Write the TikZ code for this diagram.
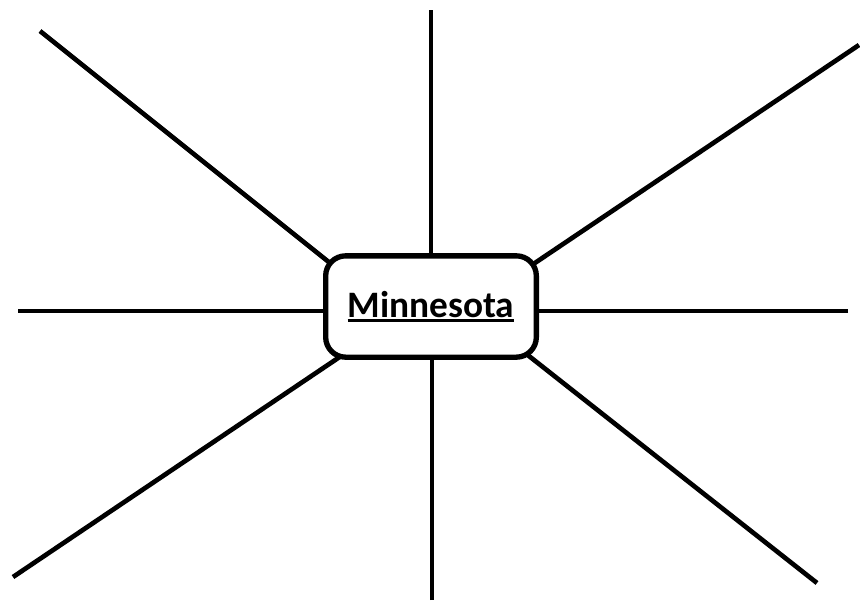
\documentclass[tikz,border=0pt]{standalone}
\usepackage{fontspec}
\setmainfont{Carlito}
\newcommand{\thickul}[1]{\vtop{\hbox{#1}\kern1.6pt\hrule height 2pt}}
\tikzset{
  spoke/.style={line width=3.5pt},
  statebox/.style={draw, line width=4pt, rounded corners=15pt, fill=white,
    minimum width=158pt, minimum height=76pt, inner sep=0pt,
    font=\fontsize{28}{30}\selectfont\bfseries}
}
\begin{document}
\begin{tikzpicture}[x=0.75pt, y=-0.75pt]
    \useasboundingbox (0,0) rectangle (860,601);

    % outer ends of the spokes
    \coordinate (N) at (431,10);
    \coordinate (S) at (432,600);
    \coordinate (W) at (18,311);
    \coordinate (E) at (848,311);
    \coordinate (NW) at (40,31);
    \coordinate (NE) at (859,45);
    \coordinate (SW) at (13,577);
    \coordinate (SE) at (817,583);

    % inner ends, under the box
    \coordinate (N') at (431,270);
    \coordinate (S') at (432,340);
    \coordinate (W') at (340,311);
    \coordinate (E') at (520,311);
    \coordinate (NW') at (340,271);
    \coordinate (NE') at (520,273);
    \coordinate (SW') at (350,350);
    \coordinate (SE') at (515,345);

    \foreach \p in {N,S,W,E,NW,NE,SW,SE}
      \draw[spoke] (\p) -- (\p');

    \node[statebox] (state) at (431,306.5) {\thickul{Minnesota}};
  \end{tikzpicture}
\end{document}
